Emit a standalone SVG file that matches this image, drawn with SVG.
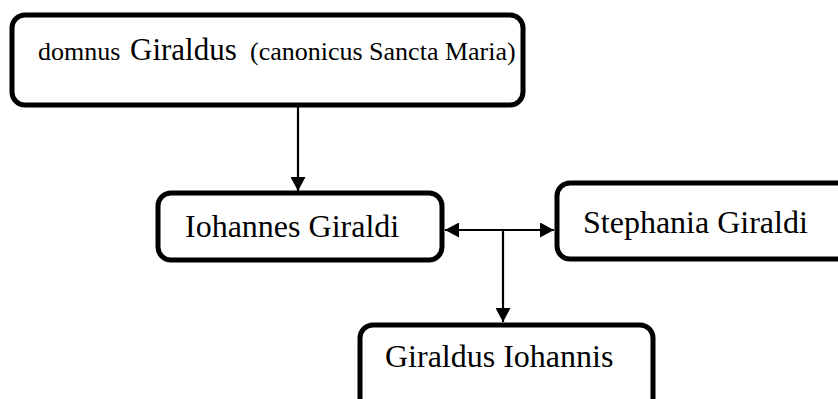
<svg xmlns="http://www.w3.org/2000/svg" width="838" height="399" viewBox="0 0 838 399">
<style>
.box{fill:#fff;stroke:#000;stroke-width:5}
.t{font-family:"Liberation Serif","Times New Roman",serif;fill:#000}
.c{stroke:#000;stroke-width:2.2;fill:none}
</style>
<defs>
<marker id="ah" viewBox="0 0 14 15" refX="14" refY="7.5" markerWidth="14" markerHeight="15" markerUnits="userSpaceOnUse" orient="auto-start-reverse">
<path d="M0,0 L14,7.5 L0,15 Z" fill="#000"/>
</marker>
</defs>
<rect width="838" height="399" fill="#fff"/>
<g id="connectors">
<line class="c" x1="298" y1="106" x2="298" y2="191" marker-end="url(#ah)"/>
<line class="c" x1="445" y1="230" x2="554" y2="230" marker-start="url(#ah)" marker-end="url(#ah)"/>
<line class="c" x1="503" y1="230" x2="503" y2="322" marker-end="url(#ah)"/>
</g>
<g id="node-giraldus">
<rect class="box" x="12" y="15" width="511" height="90" rx="13"/>
<text class="t" y="60"><tspan x="38" font-size="26">domnus</tspan><tspan x="130" font-size="31">Giraldus</tspan><tspan x="250" font-size="26">(canonicus Sancta Maria)</tspan></text>
</g>
<g id="node-iohannes">
<rect class="box" x="158" y="193" width="284" height="67" rx="13"/>
<text class="t" x="185" y="237" font-size="32">Iohannes Giraldi</text>
</g>
<g id="node-stephania">
<rect class="box" x="557" y="183" width="300" height="76" rx="13"/>
<text class="t" x="583" y="233" font-size="32">Stephania Giraldi</text>
</g>
<g id="node-giraldus-iohannis">
<rect class="box" x="360" y="325" width="293" height="100" rx="13"/>
<text class="t" x="385" y="367" font-size="32">Giraldus Iohannis</text>
</g>
</svg>
